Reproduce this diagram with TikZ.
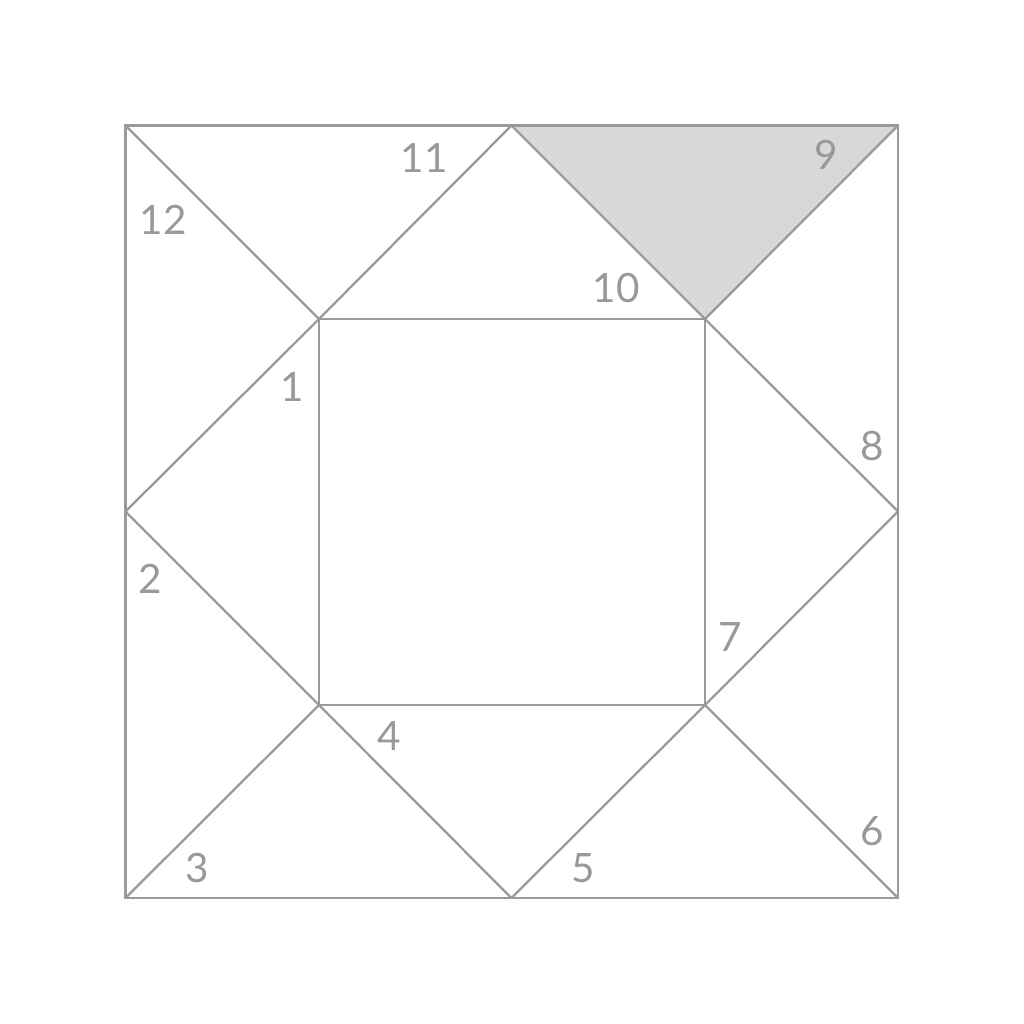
\documentclass[tikz,border=0pt]{standalone}
\usepackage{fontspec}
\setmainfont{Lato}
\definecolor{ln}{HTML}{9A9A9A}
\definecolor{sh}{HTML}{D8D8D8}
\definecolor{tx}{HTML}{999999}
\begin{document}
\begin{tikzpicture}[x=0.01cm,y=-0.01cm,
  edge/.style={draw=ln,line width=0.65pt},
  lbl/.style={text=tx,font=\fontsize{11.5}{12}\selectfont,inner sep=0pt}]
\useasboundingbox (0,0) rectangle (1024,1024);
\coordinate (A) at (125.5,125.5); \coordinate (B) at (511.5,125.5); \coordinate (C) at (898,125.5);
\coordinate (D) at (898,511.5); \coordinate (E) at (898,898); \coordinate (F) at (511.5,898);
\coordinate (G) at (125.5,898); \coordinate (H) at (125.5,511.5);
\coordinate (P) at (319,319); \coordinate (Q) at (705,319);
\coordinate (R) at (705,705); \coordinate (S) at (319,705);
\fill[sh] (B) -- (C) -- (Q) -- cycle;
\draw[edge] (A) rectangle (E);
\draw[edge] (P) rectangle (R);
\draw[edge] (A) -- (P) (B) -- (P) (B) -- (Q) (C) -- (Q) (Q) -- (D) (D) -- (R)
  (R) -- (E) (R) -- (F) (F) -- (S) (S) -- (G) (S) -- (H) (H) -- (P);
\node[lbl] (n1) at (292,387) {1};
\node[lbl] (n2) at (150,579) {2};
\node[lbl] (n3) at (197,868) {3};
\node[lbl] (n4) at (389,736) {4};
\node[lbl] (n5) at (583,868) {5};
\node[lbl] (n6) at (872,831) {6};
\node[lbl] (n7) at (730,637) {7};
\node[lbl] (n8) at (872,446) {8};
\node[lbl] (n9) at (826,155) {9};
\node[lbl] (n10) at (616,288) {10};
\node[lbl] (n11) at (424,158) {11};
\node[lbl] (n12) at (163,220) {12};
\end{tikzpicture}
\end{document}
